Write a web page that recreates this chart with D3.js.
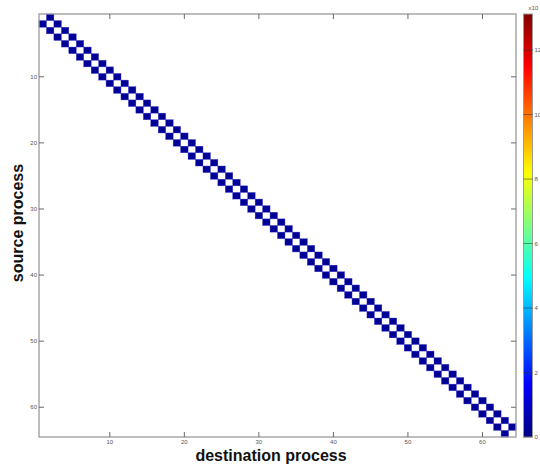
<!DOCTYPE html>
<html><head><meta charset="utf-8">
<script src="https://cdn.jsdelivr.net/npm/d3@7/dist/d3.min.js"></script>
<style>body{margin:0;background:#fff}svg{display:block}</style>
</head><body><svg id="c" width="540" height="466"></svg>
<script>
// Process ids (source rows, destination columns)
const processes = [1,2,3,4,5,6,7,8,9,10,11,12,13,14,15,16,17,18,19,20,21,22,23,24,25,26,27,28,29,30,31,32,
  33,34,35,36,37,38,39,40,41,42,43,44,45,46,47,48,49,50,51,52,53,54,55,56,57,58,59,60,61,62,63,64];
// Message volume sent from process i to process i+1 (i = 1..63)
const volumeToNext = [0.3,0.3,0.3,0.3,0.3,0.3,0.3,0.3,0.3,0.3,0.3,0.3,0.3,0.3,0.3,0.3,0.3,0.3,0.3,0.3,0.3,
  0.3,0.3,0.3,0.3,0.3,0.3,0.3,0.3,0.3,0.3,0.3,0.3,0.3,0.3,0.3,0.3,0.3,0.3,0.3,0.3,0.3,
  0.3,0.3,0.3,0.3,0.3,0.3,0.3,0.3,0.3,0.3,0.3,0.3,0.3,0.3,0.3,0.3,0.3,0.3,0.3,0.3,0.3];
// Message volume sent from process i+1 to process i (i = 1..63)
const volumeToPrev = [0.3,0.3,0.3,0.3,0.3,0.3,0.3,0.3,0.3,0.3,0.3,0.3,0.3,0.3,0.3,0.3,0.3,0.3,0.3,0.3,0.3,
  0.3,0.3,0.3,0.3,0.3,0.3,0.3,0.3,0.3,0.3,0.3,0.3,0.3,0.3,0.3,0.3,0.3,0.3,0.3,0.3,0.3,
  0.3,0.3,0.3,0.3,0.3,0.3,0.3,0.3,0.3,0.3,0.3,0.3,0.3,0.3,0.3,0.3,0.3,0.3,0.3,0.3,0.3];
const axisTicks = [10,20,30,40,50,60];
const colorTicks = [0,2,4,6,8,10,12];
const colorMax = 13.12;
const xLabel = "destination process";
const yLabel = "source process";
const colorUnit = "x10";

// build cells
const cells = [];
volumeToNext.forEach((v,i)=>cells.push({src:processes[i], dst:processes[i+1], v}));
volumeToPrev.forEach((v,i)=>cells.push({src:processes[i+1], dst:processes[i], v}));

const svg = d3.select("#c");
const L=39, R=516, T=14, B=437;
const x = d3.scaleLinear().domain([0.5,64.5]).range([L,R]);
const y = d3.scaleLinear().domain([0.5,64.5]).range([T,B]);

function jet(t){
  const c=v=>Math.max(0,Math.min(1,v));
  const r=c(1.5-Math.abs(4*t-3)), g=c(1.5-Math.abs(4*t-2)), b=c(1.5-Math.abs(4*t-1));
  return d3.rgb(r*255,g*255,b*255).toString();
}
const color = d3.scaleLinear().domain([0,colorMax]).range([0,1]).clamp(true);

svg.append("g").selectAll("rect").data(cells).join("rect")
  .attr("x",d=>x(d.dst-0.5)).attr("y",d=>y(d.src-0.5))
  .attr("width",x(1.5)-x(0.5)).attr("height",y(1.5)-y(0.5))
  .attr("fill",d=>jet(color(d.v)))
  .attr("stroke","#3a3ac8").attr("stroke-width",0.4);

// frame
svg.append("rect").attr("x",L).attr("y",T).attr("width",R-L).attr("height",B-T)
  .attr("fill","none").attr("stroke","#9a9a9a").attr("stroke-width",1.3);

const tk = 5, tcol="#6a6a6a";
const g = svg.append("g").attr("stroke",tcol).attr("stroke-width",1);
axisTicks.forEach(t=>{
  g.append("line").attr("x1",x(t)).attr("x2",x(t)).attr("y1",B).attr("y2",B-tk);
  g.append("line").attr("x1",x(t)).attr("x2",x(t)).attr("y1",T).attr("y2",T+tk);
  g.append("line").attr("y1",y(t)).attr("y2",y(t)).attr("x1",L).attr("x2",L+tk);
  g.append("line").attr("y1",y(t)).attr("y2",y(t)).attr("x1",R).attr("x2",R-tk);
});
const lab = svg.append("g").attr("font-family","Liberation Sans, Arial, sans-serif").attr("font-size",6).attr("fill","#555");
axisTicks.forEach(t=>{
  lab.append("text").attr("x",x(t)).attr("y",B+7).attr("text-anchor","middle").text(t);
  lab.append("text").attr("x",L-2).attr("y",y(t)+2).attr("text-anchor","end").text(t);
});

svg.append("text").attr("x",271).attr("y",461).attr("text-anchor","middle")
  .attr("font-family","Liberation Sans, Arial, sans-serif").attr("font-weight","bold").attr("font-size",16)
  .attr("fill","#111").text(xLabel);
svg.append("text").attr("transform",`translate(23,223) rotate(-90)`).attr("text-anchor","middle")
  .attr("font-family","Liberation Sans, Arial, sans-serif").attr("font-weight","bold").attr("font-size",16)
  .attr("fill","#111").text(yLabel);

// colorbar
const CL=523.5, CR=532.5;
const cy = d3.scaleLinear().domain([0,colorMax]).range([B,T]);
const defs = svg.append("defs");
const grad = defs.append("linearGradient").attr("id","jet").attr("x1",0).attr("y1",1).attr("x2",0).attr("y2",0);
d3.range(0,1.0001,0.02).forEach(t=>grad.append("stop").attr("offset",t).attr("stop-color",jet(t)));
svg.append("rect").attr("x",CL).attr("y",T).attr("width",CR-CL).attr("height",B-T).attr("fill","url(#jet)")
  .attr("stroke","#9a9a9a").attr("stroke-width",1);
colorTicks.forEach(t=>{
  svg.append("line").attr("x1",CL).attr("x2",CR).attr("y1",cy(t)).attr("y2",cy(t)).attr("stroke","#333").attr("stroke-width",0.8).attr("opacity",0.7);
  lab.append("text").attr("x",CR+2).attr("y",cy(t)+2).text(t);
});
lab.append("text").attr("x",CR-4).attr("y",10).text(colorUnit);
</script></body></html>
